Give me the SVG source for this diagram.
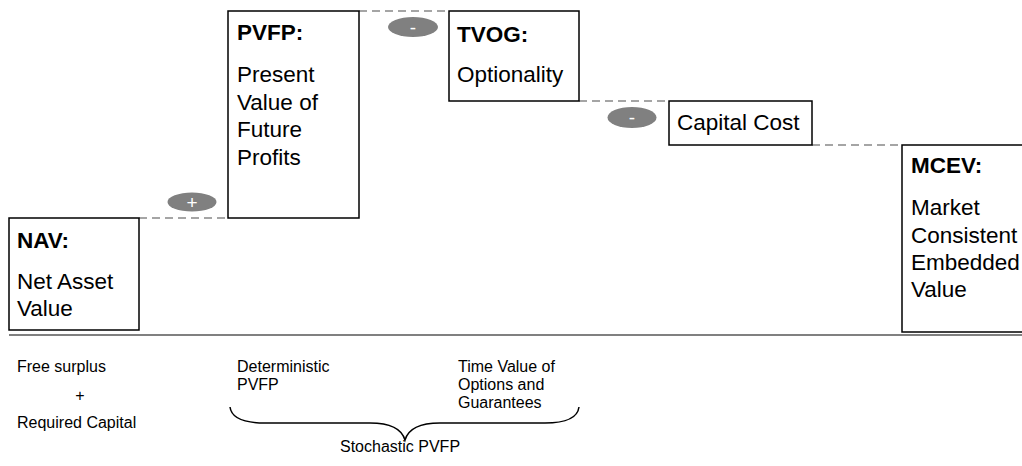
<svg xmlns="http://www.w3.org/2000/svg" width="1022" height="466" viewBox="0 0 1022 466">
<style>
.box{fill:#fff;stroke:#000;stroke-width:1.5}
.dash{stroke:#888;stroke-width:1.5;stroke-dasharray:8 5;fill:none}
.t{font-family:"Liberation Sans",Arial,sans-serif;font-size:22.5px;fill:#000}
.b{font-weight:bold}
.s{font-family:"Liberation Sans",Arial,sans-serif;font-size:16px;fill:#000}
.op{fill:#808080}
.opt{font-family:"Liberation Sans",Arial,sans-serif;font-size:19px;fill:#fff;text-anchor:middle}
</style>
<rect width="1022" height="466" fill="#fff"/>
<g id="connectors">
<line class="dash" x1="139" y1="218" x2="228" y2="218"/>
<line class="dash" x1="359" y1="11" x2="449" y2="11"/>
<line class="dash" x1="579" y1="101" x2="669" y2="101"/>
<line class="dash" x1="812" y1="145" x2="902" y2="145"/>
</g>
<g id="nav">
<rect class="box" x="9" y="218" width="130" height="112"/>
<text class="t b" x="17" y="248">NAV:</text>
<text class="t" x="17" y="289">Net Asset</text>
<text class="t" x="17" y="316">Value</text>
</g>
<g id="pvfp">
<rect class="box" x="228" y="11" width="131" height="207"/>
<text class="t b" x="237" y="40">PVFP:</text>
<text class="t" x="237" y="82">Present</text>
<text class="t" x="237" y="110">Value of</text>
<text class="t" x="237" y="137">Future</text>
<text class="t" x="237" y="165">Profits</text>
</g>
<g id="tvog">
<rect class="box" x="449" y="11" width="130" height="90"/>
<text class="t b" x="457" y="42">TVOG:</text>
<text class="t" x="457" y="82">Optionality</text>
</g>
<g id="capital-cost">
<rect class="box" x="669" y="101" width="143" height="44"/>
<text class="t" x="677" y="130">Capital Cost</text>
</g>
<g id="mcev">
<rect class="box" x="902" y="145" width="130" height="187"/>
<text class="t b" x="911" y="173">MCEV:</text>
<text class="t" x="911" y="215">Market</text>
<text class="t" x="911" y="243">Consistent</text>
<text class="t" x="911" y="270">Embedded</text>
<text class="t" x="911" y="297">Value</text>
</g>
<g id="op-plus">
<ellipse class="op" cx="192" cy="202" rx="24.5" ry="9.5"/>
<text class="opt" x="192" y="209">+</text>
</g>
<g id="op-minus1">
<ellipse class="op" cx="413" cy="27" rx="25" ry="10"/>
<text class="opt" x="413" y="34">-</text>
</g>
<g id="op-minus2">
<ellipse class="op" cx="632" cy="117.5" rx="24.5" ry="10.5"/>
<text class="opt" x="632" y="124">-</text>
</g>
<line x1="9" y1="335" x2="1022" y2="335" stroke="#808080" stroke-width="2"/>
<g id="notes">
<text class="s" x="17" y="372">Free surplus</text>
<text class="s" x="80" y="401" text-anchor="middle">+</text>
<text class="s" x="17" y="428">Required Capital</text>
<text class="s" x="237" y="372">Deterministic</text>
<text class="s" x="237" y="390">PVFP</text>
<text class="s" x="458" y="372">Time Value of</text>
<text class="s" x="458" y="390">Options and</text>
<text class="s" x="458" y="408">Guarantees</text>
<path d="M230,407 Q232,423 265,423 L370,423 Q400,423 405,440 Q410,423 440,423 L545,423 Q577,423 579,407" fill="none" stroke="#000" stroke-width="1.5"/>
<text class="s" x="340" y="452">Stochastic PVFP</text>
</g>
</svg>
